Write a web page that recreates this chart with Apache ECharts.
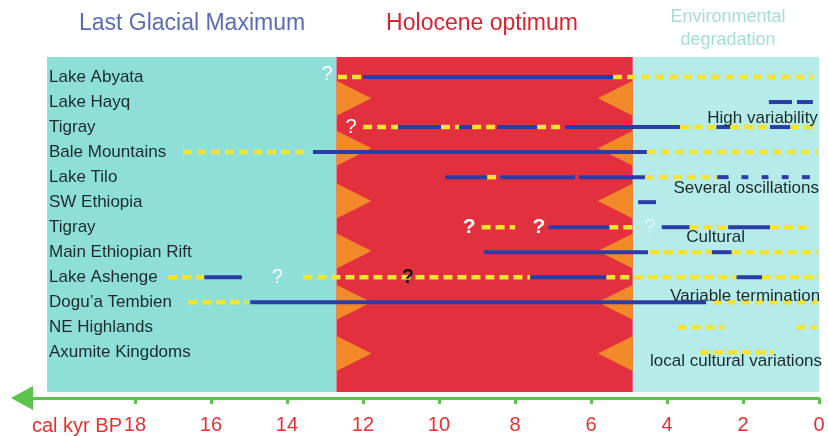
<!DOCTYPE html>
<html><head><meta charset="utf-8">
<script src="https://cdn.jsdelivr.net/npm/echarts@6/dist/echarts.min.js"></script>
<style>html,body{margin:0;padding:0;background:#fff}#c{width:828px;height:436px}</style>
</head><body><div id="c"></div><script>
// ---------- data ----------
const rowNames = ['Lake Abyata','Lake Hayq','Tigray','Bale Mountains','Lake Tilo','SW Ethiopia','Tigray','Main Ethiopian Rift','Lake Ashenge','Dogu\u2019a Tembien','NE Highlands','Axumite Kingdoms'];
const tickValues = [0,2,4,6,8,10,12,14,16,18];
const periodNames = ['Last Glacial Maximum','Holocene optimum','Environmental\ndegradation'];
const periodBounds = [20.32, 12.7, 4.9, 0];           // kyr BP
const triangleRows = [0.85, 2.85, 4.95, 6.95, 9.0, 11.05];
// [row, from kyr, to kyr]
const blueSegments = [
  [0,12.0,5.42],
  [1,1.32,0.71],[1,0.58,0.16],
  [2,11.08,9.95],[2,9.47,9.13],[2,8.47,7.42],[2,6.68,3.66],[2,2.7,2.34],[2,1.29,0.76],
  [3,13.32,4.53],
  [4,9.84,8.74],[4,8.39,6.42],[4,6.32,4.58],[4,2.68,2.38],[4,2.04,1.86],[4,1.51,1.33],[4,0.98,0.8],[4,0.45,0.24],
  [5,4.76,4.29],
  [6,7.12,5.52],[6,4.14,3.41],[6,2.39,1.29],
  [7,8.82,4.5],[7,2.82,2.3],
  [8,16.18,15.19],[8,7.6,5.6],[8,2.17,1.5],
  [9,14.97,2.97]
];
const yellowSegments = [
  [0,12.66,12.0],[0,5.42,0.16],
  [2,12.0,11.08],[2,9.95,9.47],[2,9.13,8.47],[2,7.42,6.68],[2,3.66,2.7],[2,2.34,1.29],[2,0.76,0.05],
  [3,16.74,13.4],[3,4.53,0.03],
  [4,8.73,8.5],[4,4.58,2.68],
  [6,8.88,8.0],[6,5.52,4.75],[6,3.41,2.39],[6,1.29,0.19],
  [7,4.45,2.82],[7,2.3,0.03],
  [8,17.13,16.18],[8,13.57,7.6],[8,5.6,2.17],[8,1.5,0.0],
  [9,16.6,15.05],[9,2.79,0.05],
  [10,3.72,2.49],[10,0.59,0.06],
  [11,3.13,1.2]
];
// [row, kyr, kind]
const questionMarks = [
  [-0.1,12.95,'white'],[2,12.32,'white'],[6,9.21,'whiteBold'],[6,7.37,'whiteBold'],[6,4.45,'faint'],
  [8,14.26,'white'],[8,10.82,'black']
];
// [text, right-edge kyr, row]
const notes = [
  ['High variability',0.03,1.64],
  ['Several oscillations',0.0,4.45],
  ['Cultural',1.95,6.4],
  ['Variable termination',-0.03,8.75],
  ['local cultural variations',-0.08,11.35]
];

// ---------- styles ----------
const FONT = '"Liberation Sans", Arial, Helvetica, sans-serif';
const bandColors = ['#8fdfd9','#e3303f','#b5ecea'];
const titleColors = ['#5a6cb6','#d9232f','#a3ddd7'];
const BLUE = '#2a3da6', YELLOW = '#f4e431', ORANGE = '#f28a2a', GREEN = '#5bc24b', RED = '#e8302e';
const qStyle = {
  white: {fill:'#ffffff', font:'20px '+FONT},
  whiteBold: {fill:'#ffffff', font:'bold 21px '+FONT},
  faint: {fill:'rgba(255,255,255,0.55)', font:'21px '+FONT},
  black: {fill:'#111111', font:'bold 20px '+FONT}
};

const bandData = periodNames.map((n,i)=>[periodBounds[i], periodBounds[i+1], i]);
const triData = [];
triangleRows.forEach(r => { triData.push([periodBounds[1], r, 1]); triData.push([periodBounds[2], r, -1]); });

function segRender(color, width, dash) {
  return function(params, api) {
    const row = api.value(2);
    const p1 = api.coord([api.value(0), row]);
    const p2 = api.coord([api.value(1), row]);
    return {type:'line', shape:{x1:p1[0], y1:p1[1], x2:p2[0], y2:p2[1]},
      style:{stroke:color, lineWidth:width, lineDash:dash, lineCap:'butt', fill:null}};
  };
}

const chart = echarts.init(document.getElementById('c'));
const titleX = [192, 482, 728], titleY = [24, 24, 28.5];
chart.setOption({
  animation:false,
  grid:[
    {left:47, right:9, top:57, bottom:44},
    {left:22, right:9, top:390, bottom:38}
  ],
  xAxis:[
    {type:'value', gridIndex:0, min:0, max:20.32, inverse:true, show:false},
    {type:'value', gridIndex:1, min:0, max:20.97, inverse:true, position:'bottom',
      axisLine:{show:true, onZero:false, symbol:['triangle','none'], symbolSize:[24,22],
        lineStyle:{color:GREEN, width:3}},
      axisTick:{show:true, length:6, customValues:tickValues, lineStyle:{color:GREEN, width:3}},
      axisLabel:{customValues:tickValues, color:RED, fontSize:20, fontFamily:FONT, margin:17},
      splitLine:{show:false}}
  ],
  yAxis:[
    {type:'value', gridIndex:0, min:-0.8, max:12.585, inverse:true, z:10,
      axisLine:{show:false}, axisTick:{show:false}, splitLine:{show:false},
      axisLabel:{inside:true, align:'left', margin:2, customValues:rowNames.map((n,i)=>i),
        formatter:v=>rowNames[Math.round(v)], color:'#1c2a2c', fontSize:17, fontFamily:FONT}},
    {type:'value', gridIndex:1, show:false}
  ],
  graphic:[
    ...periodNames.map((n,i)=>({type:'text', x:titleX[i], y:titleY[i], silent:true,
      style:{text:n, fill:titleColors[i], font:(i===2?'18px ':'23px ')+FONT, lineHeight:23,
        align:'center', verticalAlign:'middle'}})),
    {type:'text', x:122, y:426, style:{text:'cal kyr BP', fill:RED, font:'20px '+FONT, align:'right', verticalAlign:'middle'}}
  ],
  series:[
    {type:'custom', xAxisIndex:0, yAxisIndex:0, clip:false, data:bandData, encode:{x:[0,1]},
      renderItem:(params, api)=>{
        const cs = params.coordSys;
        const x1 = api.coord([api.value(0), 0])[0], x2 = api.coord([api.value(1), 0])[0];
        return {type:'rect', shape:{x:x1, y:cs.y, width:x2-x1, height:cs.height},
          style:{fill:bandColors[api.value(2)]}};
      }},
    {type:'custom', xAxisIndex:0, yAxisIndex:0, clip:false, data:triData, encode:{x:0, y:1},
      renderItem:(params, api)=>{
        const k = api.value(0), r = api.value(1), d = api.value(2);
        const a = api.coord([k, r-0.7]), b = api.coord([k, r+0.7]), c = api.coord([k - d*0.92, r]);
        return {type:'polygon', shape:{points:[a,b,c]}, style:{fill:ORANGE}};
      }},
    {type:'custom', xAxisIndex:0, yAxisIndex:0, clip:false,
      data:yellowSegments.map(s=>[s[1],s[2],s[0]]), encode:{x:[0,1], y:2},
      renderItem:segRender(YELLOW, 4.5, [9,5])},
    {type:'custom', xAxisIndex:0, yAxisIndex:0, clip:false,
      data:blueSegments.map(s=>[s[1],s[2],s[0]]), encode:{x:[0,1], y:2},
      renderItem:segRender(BLUE, 4, null)},
    {type:'custom', xAxisIndex:0, yAxisIndex:0, clip:false,
      data:questionMarks.map(q=>[q[1],q[0],q[2]]), encode:{x:0, y:1},
      renderItem:(params, api)=>{
        const q = questionMarks[params.dataIndex];
        const p = api.coord([q[1], q[0]]);
        const st = qStyle[q[2]];
        return {type:'text', x:p[0], y:p[1], style:{text:'?', fill:st.fill, font:st.font, align:'center', verticalAlign:'middle'}};
      }},
    {type:'custom', xAxisIndex:0, yAxisIndex:0, clip:false,
      data:notes.map(n=>[n[1],n[2]]), encode:{x:0, y:1},
      renderItem:(params, api)=>{
        const n = notes[params.dataIndex];
        const p = api.coord([n[1], n[2]]);
        return {type:'text', x:p[0], y:p[1], style:{text:n[0], fill:'#1c2a2c', font:'17px '+FONT, align:'right', verticalAlign:'middle'}};
      }}
  ]
});
</script></body></html>
